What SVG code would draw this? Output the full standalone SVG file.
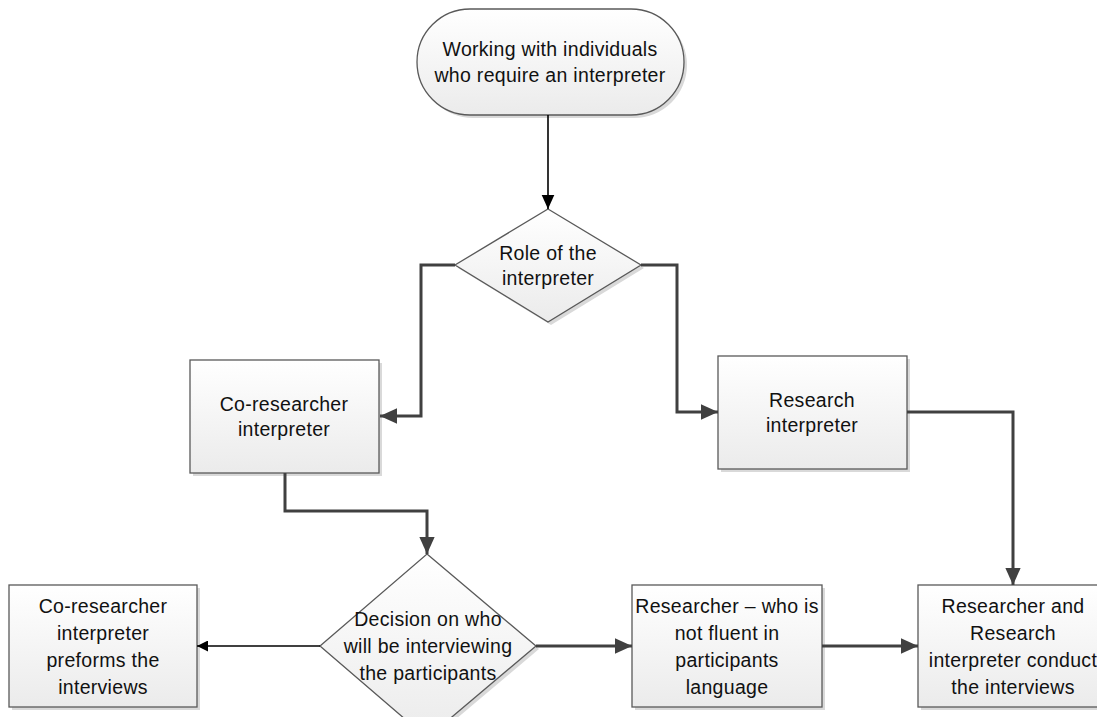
<svg xmlns="http://www.w3.org/2000/svg" width="1097" height="717" viewBox="0 0 1097 717">
<defs>
<linearGradient id="g" x1="0" y1="0" x2="0" y2="1">
<stop offset="0" stop-color="#ffffff"/>
<stop offset="1" stop-color="#ebebeb"/>
</linearGradient>
<marker id="ab" viewBox="0 0 10 10" refX="10" refY="5" markerWidth="11" markerHeight="11" markerUnits="userSpaceOnUse" orient="auto">
<path d="M0,0 L10,5 L0,10 z" fill="#000"/>
</marker>
<marker id="ag" viewBox="0 0 10 10" refX="10" refY="5" markerWidth="17" markerHeight="17" markerUnits="userSpaceOnUse" orient="auto">
<path d="M0,0.5 L10,5 L0,9.5 z" fill="#404040"/>
</marker>
<marker id="abt" viewBox="0 0 10 10" refX="10" refY="5" markerWidth="14" markerHeight="14" markerUnits="userSpaceOnUse" orient="auto">
<path d="M0,0.5 L10,5 L0,9.5 z" fill="#000"/>
</marker>
</defs>
<style>
.s{fill:#d9d9d9;stroke:none}
.n{fill:url(#g);stroke:#595959;stroke-width:1.3}
.t{font-family:"Liberation Sans",Arial,sans-serif;font-size:19.5px;letter-spacing:0.3px;fill:#111;text-anchor:middle}
.cb{fill:none;stroke:#000;stroke-width:1.6}
.cg{fill:none;stroke:#404040;stroke-width:3}
</style>
<rect width="1097" height="717" fill="#fff"/>
<g id="start">
<rect class="s" x="420" y="12" width="267" height="106" rx="53"/>
<rect class="n" x="417" y="9" width="267" height="106" rx="53"/>
<text class="t" x="550" y="56">Working with individuals</text>
<text class="t" x="550" y="82">who require an interpreter</text>
</g>
<g id="role">
<polygon class="s" points="551,212 644,268 551,325 458,268"/>
<polygon class="n" points="548,209 641,265 548,322 455,265"/>
<text class="t" x="548" y="260">Role of the</text>
<text class="t" x="548" y="285">interpreter</text>
</g>
<g id="coresearcher">
<rect class="s" x="193" y="363" width="189" height="113"/>
<rect class="n" x="190" y="360" width="189" height="113"/>
<text class="t" x="284" y="411">Co-researcher</text>
<text class="t" x="284" y="436">interpreter</text>
</g>
<g id="research">
<rect class="s" x="721" y="359" width="189" height="113"/>
<rect class="n" x="718" y="356" width="189" height="113"/>
<text class="t" x="812" y="407">Research</text>
<text class="t" x="812" y="432">interpreter</text>
</g>
<g id="decision">
<polygon class="s" points="430,557 539,649 430,741 323,649"/>
<polygon class="n" points="427,554 536,646 427,738 320,646"/>
<text class="t" x="428" y="626">Decision on who</text>
<text class="t" x="428" y="653">will be interviewing</text>
<text class="t" x="428" y="680">the participants</text>
</g>
<g id="coperforms">
<rect class="s" x="12" y="588" width="188" height="122"/>
<rect class="n" x="9" y="585" width="188" height="122"/>
<text class="t" x="103" y="613">Co-researcher</text>
<text class="t" x="103" y="640">interpreter</text>
<text class="t" x="103" y="667">preforms the</text>
<text class="t" x="103" y="694">interviews</text>
</g>
<g id="researcher">
<rect class="s" x="635" y="588" width="190" height="122"/>
<rect class="n" x="632" y="585" width="190" height="122"/>
<text class="t" x="727" y="613">Researcher – who is</text>
<text class="t" x="727" y="640">not fluent in</text>
<text class="t" x="727" y="667">participants</text>
<text class="t" x="727" y="694">language</text>
</g>
<g id="conduct">
<rect class="s" x="921" y="588" width="190" height="122"/>
<rect class="n" x="918" y="585" width="190" height="122"/>
<text class="t" x="1013" y="613">Researcher and</text>
<text class="t" x="1013" y="640">Research</text>
<text class="t" x="1013" y="667">interpreter conduct</text>
<text class="t" x="1013" y="694">the interviews</text>
</g>
<g id="connectors">
<path class="cb" d="M548,115 L548,209" marker-end="url(#abt)"/>
<path class="cg" d="M455,265 L421,265 L421,416 L380,416" marker-end="url(#ag)"/>
<path class="cg" d="M641,265 L677,265 L677,412 L718,412" marker-end="url(#ag)"/>
<path class="cg" d="M907,412 L1013,412 L1013,585" marker-end="url(#ag)"/>
<path class="cg" d="M285,473 L285,511 L427,511 L427,554" marker-end="url(#ag)"/>
<path class="cb" d="M320,646 L197,646" marker-end="url(#ab)"/>
<path class="cg" d="M536,646 L632,646" marker-end="url(#ag)"/>
<path class="cg" d="M822,646 L918,646" marker-end="url(#ag)"/>
</g>
</svg>
